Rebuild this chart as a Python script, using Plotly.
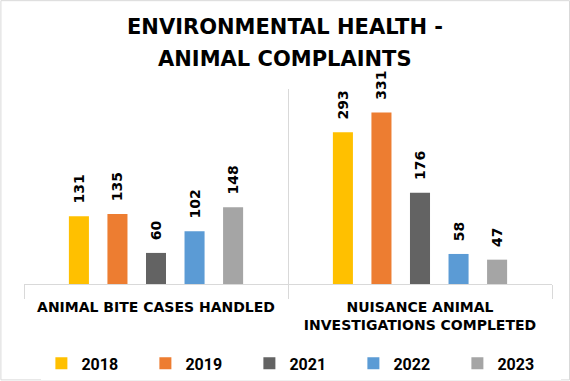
import plotly.graph_objects as go

categories = ["ANIMAL BITE CASES HANDLED", "NUISANCE ANIMAL<br>INVESTIGATIONS COMPLETED"]
years = ["2018", "2019", "2021", "2022", "2023"]
values = {
    "2018": [131, 293],
    "2019": [135, 331],
    "2021": [60, 176],
    "2022": [102, 58],
    "2023": [148, 47],
}
colors = ["#FFC000", "#ED7D31", "#636363", "#5B9BD5", "#A5A5A5"]
title_lines = ["ENVIRONMENTAL HEALTH -", "ANIMAL COMPLAINTS"]

W, H = 570, 381
ml, mr, mt, mb = 23.6, 18, 89, 96.6
pw, ph = W - ml - mr, H - mt - mb

fig = go.Figure()
for yr, c in zip(years, colors):
    fig.add_trace(go.Bar(
        name=yr, x=categories, y=values[yr], marker=dict(color=c, line=dict(width=0)),
        texttemplate="\u00a0\u00a0%{y}", textposition="outside", textangle=-90,
        constraintext="none", cliponaxis=False,
        textfont=dict(family="DejaVu Sans", size=14, color="#000000", weight="bold"),
    ))

def px(x):
    return (x - ml) / pw

def py(y):
    return (H - mb - y) / ph

annotations = [
    dict(text=t, x=px(285), y=py(yc), xref="paper", yref="paper",
         xanchor="center", yanchor="middle", showarrow=False,
         font=dict(family="DejaVu Sans", size=21, color="#000000", weight="bold"))
    for t, yc in zip(title_lines, [27, 59])
]

fig.update_layout(
    width=W, height=H, barmode="group", bargap=0.27, bargroupgap=0.48,
    margin=dict(l=ml, r=mr, t=mt, b=mb, autoexpand=False),
    paper_bgcolor="white", plot_bgcolor="white",
    annotations=annotations,
    xaxis=dict(tickson="boundaries", showgrid=True, gridcolor="#D9D9D9", gridwidth=1,
               ticks="outside", ticklen=14, tickcolor="#D9D9D9", ticklabelstandoff=10,
               showline=True, linecolor="#D9D9D9", linewidth=1, automargin=False,
               tickfont=dict(family="DejaVu Sans", size=14, color="#000000", weight="bold")),
    yaxis=dict(range=[0, 376.5], visible=False, showgrid=False, zeroline=False),
    showlegend=True,
    legend=dict(orientation="h", x=px(41), xanchor="left", y=py(364), yanchor="middle",
                entrywidth=59, entrywidthmode="pixels", itemwidth=30,
                font=dict(family="Roboto", size=16, color="#000000", weight="bold"),
                traceorder="normal"),
    shapes=[dict(type="rect", xref="paper", yref="paper",
                 x0=px(0.5), x1=px(W - 0.5), y0=py(H - 0.5), y1=py(0.5),
                 line=dict(color="#D9D9D9", width=1))],
)

fig.write_html("out.html", config={"displayModeBar": False},
               post_script="document.body.style.margin='0';")
